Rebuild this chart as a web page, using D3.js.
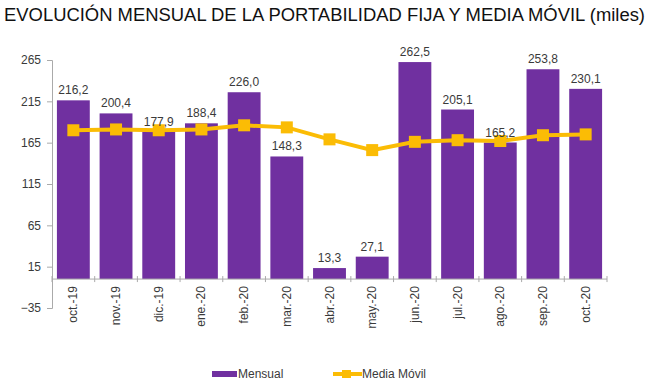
<!DOCTYPE html>
<html>
<head>
<meta charset="utf-8">
<script src="https://cdn.jsdelivr.net/npm/d3@7/dist/d3.min.js"></script>
<style>
  body { margin: 0; background: #fff; }
  svg { font-family: "Liberation Sans", Arial, sans-serif; }
</style>
</head>
<body>
<svg id="chart" width="651" height="386"></svg>
<script>
// data
var months = ['oct.-19', 'nov.-19', 'dic.-19', 'ene.-20', 'feb.-20', 'mar.-20', 'abr.-20',
  'may.-20', 'jun.-20', 'jul.-20', 'ago.-20', 'sep.-20', 'oct.-20'];
var mensual = [216.2, 200.4, 177.9, 188.4, 226.0, 148.3, 13.3, 27.1, 262.5, 205.1, 165.2, 253.8, 230.1];
var mediaMovil = [180, 181, 180, 181, 186, 183.5, 169, 156, 166, 168, 167, 174, 175];
var yTicks = [-35, 15, 65, 115, 165, 215, 265];

var svg = d3.select('#chart');
var fmt = function(v) { return v.toFixed(1).replace('.', ','); };

// ----------
svg.append('text')
  .attr('x', 4)
  .attr('y', 21)
  .attr('textLength', 641)
  .attr('lengthAdjust', 'spacingAndGlyphs')
  .style('font-size', '18px')
  .style('fill', '#111')
  .text('EVOLUCIÓN MENSUAL DE LA PORTABILIDAD FIJA Y MEDIA MÓVIL (miles)');

var x = d3.scaleBand().domain(months).range([52, 607]).paddingInner(0.23).paddingOuter(0.115);
var y = d3.scaleLinear().domain([-35, 265]).range([308, 60]);

// y axis
var yAxis = svg.append('g')
  .attr('transform', 'translate(52,0)')
  .call(d3.axisLeft(y).tickValues(yTicks).tickSize(5).tickPadding(6));
yAxis.select('.domain').attr('stroke', '#aaa');
yAxis.selectAll('.tick line').attr('stroke', '#aaa');
yAxis.selectAll('.tick text')
  .style('font-size', '12px')
  .style('font-family', '"Liberation Sans", Arial, sans-serif')
  .attr('fill', '#3a3a3a');

// bars
svg.append('g').selectAll('rect')
  .data(mensual)
  .enter().append('rect')
  .attr('x', function(d, i) { return x(months[i]); })
  .attr('width', x.bandwidth())
  .attr('y', function(d) { return y(d); })
  .attr('height', function(d) { return y(0) - y(d); })
  .attr('fill', '#7030A0');

// x axis at zero
var step = x.step();
var x0 = x(months[0]) - step * x.paddingOuter();
var xg = svg.append('g');
xg.append('line')
  .attr('x1', 52).attr('x2', x0 + step * months.length)
  .attr('y1', y(0)).attr('y2', y(0))
  .attr('stroke', '#aaa');
xg.selectAll('line.tk')
  .data(d3.range(months.length + 1))
  .enter().append('line')
  .attr('class', 'tk')
  .attr('x1', function(i) { return x0 + i * step; })
  .attr('x2', function(i) { return x0 + i * step; })
  .attr('y1', y(0) - 3).attr('y2', y(0) + 3)
  .attr('stroke', '#aaa');
xg.selectAll('text')
  .data(months)
  .enter().append('text')
  .attr('transform', function(d) {
    return 'translate(' + (x(d) + x.bandwidth() / 2 + 4) + ',' + (y(0) + 7) + ') rotate(-90)';
  })
  .attr('text-anchor', 'end')
  .style('font-size', '12px')
  .style('fill', '#3a3a3a')
  .text(function(d) { return d; });

// moving average line
var line = d3.line()
  .x(function(d, i) { return x(months[i]) + x.bandwidth() / 2; })
  .y(function(d) { return y(d); });

svg.append('path')
  .datum(mediaMovil)
  .attr('d', line)
  .attr('fill', 'none')
  .attr('stroke', '#FBBC05')
  .attr('stroke-width', 4);

svg.append('g').selectAll('rect')
  .data(mediaMovil)
  .enter().append('rect')
  .attr('x', function(d, i) { return x(months[i]) + x.bandwidth() / 2 - 6; })
  .attr('y', function(d) { return y(d) - 6; })
  .attr('width', 12)
  .attr('height', 12)
  .attr('fill', '#FBBC05');

// data labels
svg.append('g').selectAll('text')
  .data(mensual)
  .enter().append('text')
  .attr('x', function(d, i) { return x(months[i]) + x.bandwidth() / 2; })
  .attr('y', function(d) { return y(d) - 6; })
  .attr('text-anchor', 'middle')
  .style('font-size', '12px')
  .style('fill', '#3a3a3a')
  .text(fmt);

// legend
var lg = svg.append('g').style('font-size', '12px').style('fill', '#3a3a3a');
lg.append('rect').attr('x', 212).attr('y', 371).attr('width', 25).attr('height', 6).attr('fill', '#7030A0');
lg.append('text').attr('x', 238).attr('y', 378).text('Mensual');
lg.append('line').attr('x1', 333).attr('x2', 362).attr('y1', 374).attr('y2', 374)
  .attr('stroke', '#FBBC05').attr('stroke-width', 4);
lg.append('rect').attr('x', 342).attr('y', 370).attr('width', 9).attr('height', 8).attr('fill', '#FBBC05');
lg.append('text').attr('x', 362).attr('y', 378).text('Media Móvil');
</script>
</body>
</html>
